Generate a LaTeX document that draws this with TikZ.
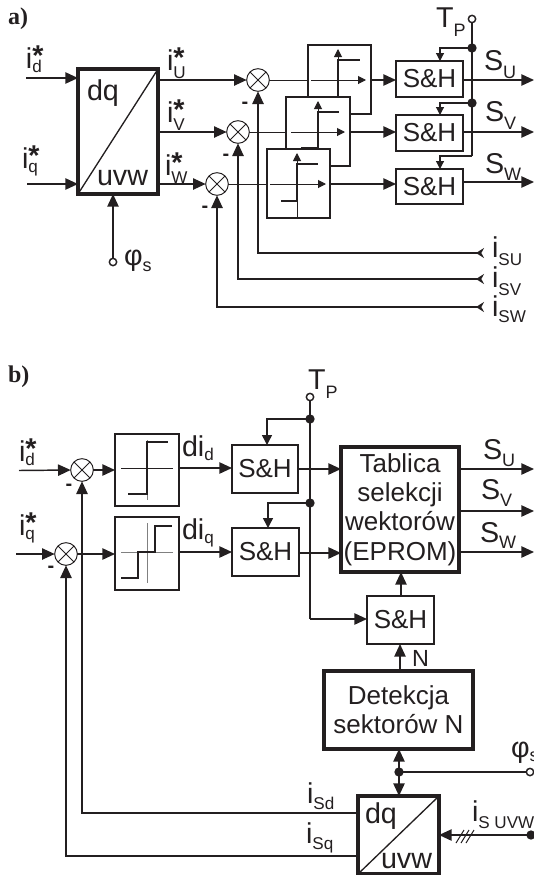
\documentclass[tikz,border=0pt]{standalone}
\usepackage{fontspec}
\setmainfont{Liberation Sans}
\newfontfamily\serifb{Liberation Serif}
\usetikzlibrary{arrows.meta,calc}
\definecolor{ink}{HTML}{231F20}
\newcommand\mf{\fontsize{21.5pt}{24pt}\selectfont}
\newcommand\subf{\fontsize{12.8pt}{14pt}\selectfont}
\newcommand\subl{\fontsize{13.5pt}{15pt}\selectfont}
\newcommand\blk{\fontsize{19.5pt}{22pt}\selectfont}
\newcommand\ist[2]{\mf i\rlap{\raisebox{-#2}{\subf #1}}\raisebox{2.2pt}{\bfseries *}}
\newcommand\msub[3]{\mf #1\raisebox{-#3}{\subl #2}}
\newcommand\isub[2]{\mf i\raisebox{-#2}{\subf #1}}
\tikzset{
  x=0.75pt,y=-0.75pt,
  every node/.style={inner sep=0pt,outer sep=0pt,text=ink},
  lab/.style={anchor=base west},
  tri/.tip={Triangle[length=9.5pt,width=8.5pt]},
  tris/.tip={Triangle[length=6pt,width=6pt]},
  trim/.tip={Triangle[length=7.5pt,width=7.5pt]},
  back/.tip={Stealth[length=6pt,width=7.5pt,inset=2pt,reversed]},
  sig/.style={draw=ink,line width=1.1pt},
  thin line/.style={draw=ink,line width=0.75pt},
  box/.style={draw=ink,fill=white,line width=1.3pt,font=\blk,align=center},
  thick box/.style={draw=ink,fill=white,line width=2.5pt,font=\blk,align=center},
  wh/.style 2 args={minimum width=#1*0.75pt,minimum height=#2*0.75pt},
  sumj/.style={circle,draw=ink,fill=white,line width=0.75pt,minimum size=17pt,
    path picture={\draw[ink,line width=0.6pt]
      (path picture bounding box.north west)--(path picture bounding box.south east)
      (path picture bounding box.north east)--(path picture bounding box.south west);}},
  port/.style={circle,draw=ink,fill=white,line width=1.1pt,minimum size=5.5pt},
  dot/.style={circle,fill=ink,minimum size=7pt},
  curve/.style={draw=ink,line width=2pt},
  minus/.style={font=\fontsize{15pt}{16pt}\selectfont\bfseries},
  panel/.style={anchor=base west,font=\serifb\bfseries\fontsize{18pt}{20pt}\selectfont},
}
\begin{document}
\begin{tikzpicture}
\useasboundingbox (0,0) rectangle (534,875);
% ---------- panel a
\node[panel] (pa) at (8,24) {a)};
\node[thick box,wh={80}{125}] (dqa) at (118,131.5) {};
\draw[ink,line width=1pt] (dqa.south west)--(dqa.north east);
\node[lab,font=\mf] (dqat) at (87,100.5) {dq};
\node[lab,font=\mf] (uvwa) at (97,185) {uvw};
\coordinate (ida) at (26,78); \coordinate (iqa) at (27,184);
\draw[sig,-{tri}] (ida)--(dqa.west|-ida);
\draw[sig,-{tri}] (iqa)--(dqa.west|-iqa);
\node[lab] (lida) at (26,68) {\ist{d}{3.5pt}};
\node[lab] (liqa) at (22,168) {\ist{q}{3.5pt}};
\node[sumj] (su) at (258,80) {};
\node[sumj] (sv) at (238,132) {};
\node[sumj] (sw) at (217,184) {};
\draw[sig,-{tri}] (dqa.east|-su)--(su.west);
\draw[sig,-{tri}] (dqa.east|-sv)--(sv.west);
\draw[sig,-{tri}] (dqa.east|-sw)--(sw.west);
\node[lab] (liu) at (167,70.5) {\ist{U}{6pt}};
\node[lab] (liv) at (167,122) {\ist{V}{6pt}};
\node[lab] (liw) at (165,175) {\ist{W}{6pt}};
\node[port] (phia) at (113,262) {};
\draw[sig,-{tri}] (phia)--(dqa.south-|phia);
\node[lab] (lphia) at (124,265) {\msub{φ}{s}{5pt}};
% relay boxes
\node[box,wh={63}{69}] (ru) at (339.5,79.5) {};
\draw[thin line] (su.east)--(ru.west|-su);
\draw[thin line,-{tris}] (311,80)--(366,80);
\draw[thin line,-{tris}] (338,97)--(338,49);
\draw[curve] (338,97)--(338,60)--(360,60);
\node[box,wh={64}{69}] (rv) at (318,131.5) {};
\draw[thin line] (sv.east)--(rv.west|-sv);
\draw[thin line,-{tris}] (291,132)--(345,132);
\draw[thin line,-{tris}] (318,149)--(318,101);
\draw[curve] (301,148)--(318,148)--(318,112)--(339,112);
\node[box,wh={63}{69}] (rw) at (298.5,183.5) {};
\draw[thin line] (sw.east)--(rw.west|-sw);
\draw[thin line,-{tris}] (270,184)--(326,184);
\draw[thin line,-{tris}] (297,218)--(297,153);
\draw[curve] (281,201)--(297,201)--(297,164)--(318,164);
% S&H
\node[box,wh={67}{36}] (shu) at (429.5,79) {S\&H};
\node[box,wh={67}{36}] (shv) at (429.5,133) {S\&H};
\node[box,wh={67}{35}] (shw) at (429.5,186.5) {S\&H};
\draw[sig,-{tri}] (ru.east|-su)--(shu.west|-su);
\draw[sig,-{tri}] (rv.east|-sv)--(shv.west|-sv);
\draw[sig,-{tri}] (rw.east|-sw)--(shw.west|-sw);
\coordinate (ou) at (534,80); \coordinate (ov) at (534,132); \coordinate (ow) at (534,182);
\draw[sig,-{tri}] (shu.east|-ou)--(ou);
\draw[sig,-{tri}] (shv.east|-ov)--(ov);
\draw[sig,-{tri}] (shw.east|-ow)--(ow);
\node[port] (tpa) at (472,19) {};
\node[dot] (d1a) at (472,48) {};
\node[dot] (d2a) at (472,103) {};
\coordinate (tpae) at (472,156);
\coordinate (ta1) at (440,61); \coordinate (ta2) at (440,115); \coordinate (ta3) at (440,169);
\draw[sig] (tpa)--(tpae);
\draw[sig,line width=0.9pt,-{tris}] (d1a.center)-|(ta1);
\draw[sig,line width=0.9pt,-{tris}] (d2a.center)-|(ta2);
\draw[sig,line width=0.9pt,-{tris}] (tpae)-|(ta3);
\node[lab] (ltpa) at (436,27) {\msub{T}{P}{6.75pt}};
\node[lab] (lsu) at (484,70) {\msub{S}{U}{6pt}};
\node[lab] (lsv) at (485,121) {\msub{S}{V}{6pt}};
\node[lab] (lsw) at (485,173) {\msub{S}{W}{5.5pt}};
\coordinate (isu) at (484,253); \coordinate (isv) at (484,279); \coordinate (isw) at (484,307);
\draw[sig,{back}-{tri}] (isu)-|(su.south);
\draw[sig,{back}-{tri}] (isv)-|(sv.south);
\draw[sig,{back}-{tri}] (isw)-|(sw.south);
\node[lab] (lisu) at (492,257) {\isub{SU}{6pt}};
\node[lab] (lisv) at (492,287) {\isub{SV}{6pt}};
\node[lab] (lisw) at (492,316) {\isub{SW}{5pt}};
\node[minus] (m1) at (245,105) {-};
\node[minus] (m2) at (226,157) {-};
\node[minus] (m3) at (205,209) {-};
% ---------- panel b
\node[panel] (pb) at (8,382) {b)};
\node[sumj] (sd) at (82,470) {};
\node[sumj] (sq) at (66,554) {};
\coordinate (idb) at (19,470.5); \coordinate (iqb) at (16,554);
\draw[sig,-{tri}] (idb)--(sd.west);
\draw[sig,-{tri}] (iqb)--(sq.west);
\node[lab] (lidb) at (19,461) {\ist{d}{3.5pt}};
\node[lab] (liqb) at (19,535) {\ist{q}{3.5pt}};
\node[box,wh={64}{72}] (r1) at (147,470) {};
\node[box,wh={64}{73}] (r2) at (147,553.5) {};
\draw[sig,-{tri}] (sd.east)--(r1.west|-sd);
\draw[sig,-{tri}] (sq.east)--(r2.west|-sq);
\draw[thin line] (121,468)--(173,468);
\draw[thin line,draw=gray] (147,440)--(147,500);
\draw[sig] (128,494)--(147,494)--(147,442)--(168,442);
\draw[thin line,draw=gray] (121,552)--(173,552);
\draw[thin line,draw=gray] (147,523)--(147,583);
\draw[sig] (121,578)--(138,578)--(138,552)--(155,552)--(155,526)--(172,526);
\node[box,wh={66}{48}] (sh1) at (265,469) {S\&H};
\node[box,wh={67}{48}] (sh2) at (265.5,552) {S\&H};
\coordinate (y1) at (0,468); \coordinate (y2) at (0,552);
\draw[sig,-{tri}] (r1.east|-y1)--(sh1.west|-y1);
\draw[sig,-{tri}] (r2.east|-y2)--(sh2.west|-y2);
\node[lab] (lgd) at (182,456) {\mf di\raisebox{-3.5pt}{\subf d}};
\node[lab] (lgq) at (182,539) {\mf di\raisebox{-3.5pt}{\subf q}};
\node[thick box,wh={118}{125}] (tab) at (400,509.5) {Tablica\\selekcji\\wektorów\\(EPROM)};
\coordinate (y3) at (0,469); \coordinate (y4) at (0,553);
\draw[sig,-{tri}] (sh1.east|-y3)--(tab.west|-y3);
\draw[sig,-{tri}] (sh2.east|-y4)--(tab.west|-y4);
\coordinate (obu) at (534,469); \coordinate (obv) at (534,511); \coordinate (obw) at (534,552);
\draw[sig,-{tri}] (tab.east|-obu)--(obu);
\draw[sig,-{tri}] (tab.east|-obv)--(obv);
\draw[sig,-{tri}] (tab.east|-obw)--(obw);
\node[lab] (lsub) at (483,459) {\msub{S}{U}{5.5pt}};
\node[lab] (lsvb) at (481,499) {\msub{S}{V}{5.5pt}};
\node[lab] (lswb) at (480,542) {\msub{S}{W}{5pt}};
\node[box,wh={67}{48}] (sh3) at (400.5,620) {S\&H};
\node[thick box,wh={149}{78}] (det) at (398.5,710) {Detekcja\\sektorów N};
\coordinate (x1) at (401,0); \coordinate (x2) at (400,0);
\draw[sig,-{tri}] (sh3.north-|x1)--(tab.south-|x1);
\draw[sig,-{tri}] (det.north-|x2)--(sh3.south-|x2);
\node[lab,font=\fontsize{17.5pt}{20pt}\selectfont] (ln) at (412,666) {N};
\node[port] (tpb) at (310,397) {};
\node[dot] (d1b) at (310,419) {};
\node[dot] (d2b) at (310,503) {};
\coordinate (tpbe) at (310,619);
\coordinate (tb1) at (267,445); \coordinate (tb2) at (268,528);
\draw[sig] (tpb)--(tpbe);
\draw[sig,-{tri}] (tpbe)--(sh3.west|-tpbe);
\draw[sig,-{trim}] (d1b.center)-|(tb1);
\draw[sig,-{trim}] (d2b.center)-|(tb2);
\node[lab] (ltpb) at (308,389) {\msub{T}{P}{6.75pt}};
% dq block b
\node[thick box,wh={81}{78}] (dqb) at (398.5,835) {};
\draw[ink,line width=1pt] (dqb.south west)--(dqb.north east);
\node[lab,font=\mf] (dqbt) at (365,823) {dq};
\node[lab,font=\mf] (uvwb) at (381,868) {uvw};
\node[dot] (jb) at (399,772) {};
\node[port] (phib) at (530,772) {};
\draw[sig,-{tri}] (jb.center)--(det.south-|jb);
\draw[sig,-{tri}] (jb.center)--(dqb.north-|jb);
\draw[sig] (jb.center)--(phib);
\node[lab] (lphib) at (511,757) {\msub{φ}{s}{3pt}};
\node[dot] (db) at (531,835) {};
\draw[sig,-{tri}] (db.center)--(dqb.east|-db);
\draw[thin line] (456,843)--(464,830) (461,843)--(469,830) (466,843)--(474,830);
\node[lab] (lisuvw) at (472,821) {\isub{S UVW}{5.5pt}};
\coordinate (esd) at (358,813); \coordinate (esq) at (358,856);
\draw[sig,-{tri}] (dqb.west|-esd)-|(sd.south);
\draw[sig,-{tri}] (dqb.west|-esq)-|(sq.south);
\node[lab] (lisd) at (307,803) {\isub{Sd}{5pt}};
\node[lab] (lisq) at (306,843) {\isub{Sq}{5pt}};
\node[minus] (m4) at (69,487) {-};
\node[minus] (m5) at (51,569) {-};
\end{tikzpicture}
\end{document}
